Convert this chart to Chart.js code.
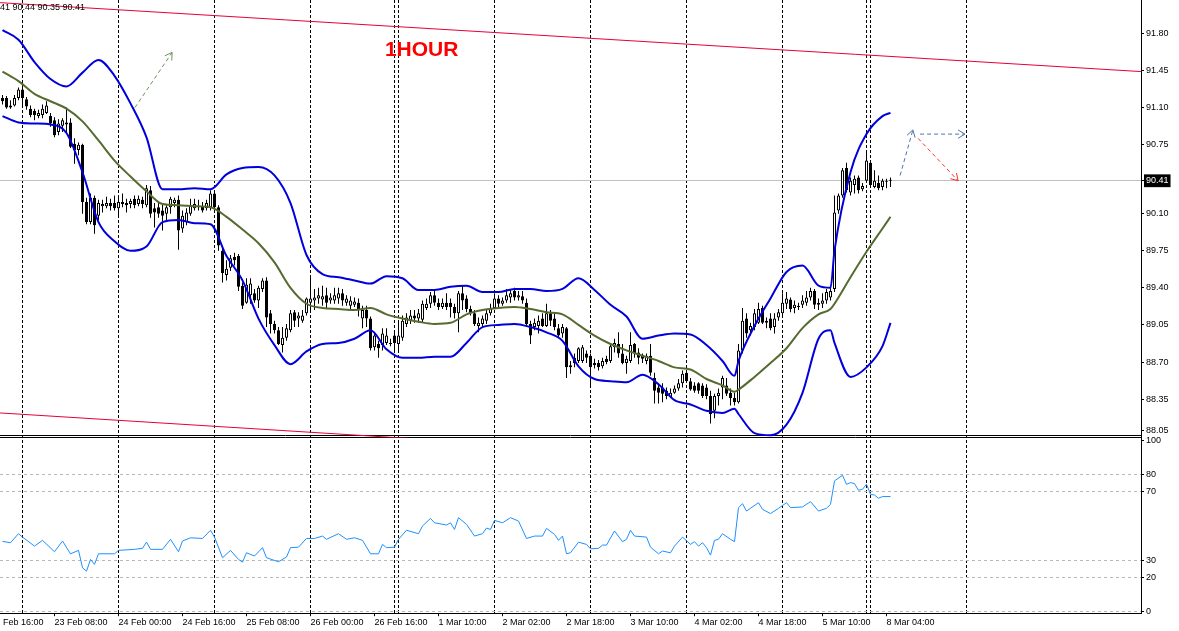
<!DOCTYPE html>
<html>
<head>
<meta charset="utf-8">
<script src="https://cdn.jsdelivr.net/npm/chart.js@4.4.1/dist/chart.umd.min.js"></script>
<style>
    html, body { margin: 0; padding: 0; background: #fff; }
    canvas { display: block; }
</style>
</head>
<body>
<canvas id="chart" width="1179" height="631"></canvas>
<script>
// H1 candles, one entry per bar (bar 0 = leftmost visible bar)
var open = [
    91.19, 91.19, 91.10, 91.12, 91.19, 91.27, 91.18, 91.09, 91.07, 91.02,
    91.03, 91.05, 91.02, 90.98, 90.87, 90.93, 90.96, 90.96, 90.76, 90.70,
    90.75, 90.21, 90.02, 90.25, 90.08, 90.17, 90.17, 90.20, 90.20, 90.15,
    90.19, 90.20, 90.19, 90.24, 90.19, 90.23, 90.18, 90.32, 90.15, 90.16,
    90.13, 90.10, 90.16, 90.20, 90.23, 89.96, 90.02, 90.10, 90.15, 90.17,
    90.17, 90.15, 90.16, 90.29, 90.16, 89.75, 89.52, 89.59, 89.69, 89.70,
    89.42, 89.26, 89.33, 89.35, 89.28, 89.39, 89.47, 89.16, 89.06, 89.00,
    88.86, 88.93, 89.00, 89.17, 89.11, 89.09, 89.16, 89.26, 89.28, 89.30,
    89.29, 89.33, 89.28, 89.28, 89.30, 89.35, 89.26, 89.23, 89.24, 89.26,
    89.11, 89.19, 89.11, 88.84, 88.87, 88.86, 88.88, 88.88, 88.95, 88.87,
    88.93, 89.06, 89.09, 89.14, 89.11, 89.10, 89.21, 89.25, 89.33, 89.26,
    89.22, 89.26, 89.26, 89.22, 89.16, 89.35, 89.30, 89.20, 89.16, 89.04,
    89.06, 89.09, 89.16, 89.21, 89.30, 89.25, 89.28, 89.31, 89.37, 89.31,
    89.32, 89.26, 89.06, 89.03, 89.04, 89.11, 89.04, 89.16, 89.11, 89.02,
    88.97, 89.02, 88.65, 88.74, 88.71, 88.71, 88.78, 88.76, 88.69, 88.69,
    88.66, 88.73, 88.71, 88.84, 88.87, 88.78, 88.69, 88.71, 88.87, 88.79,
    88.76, 88.71, 88.76, 88.55, 88.46, 88.46, 88.43, 88.37, 88.41, 88.45,
    88.50, 88.60, 88.52, 88.48, 88.50, 88.48, 88.46, 88.38, 88.24, 88.38,
    88.46, 88.48, 88.41, 88.36, 88.32, 88.81, 89.11, 89.00, 89.03, 89.07,
    89.21, 89.07, 89.11, 89.03, 89.12, 89.16, 89.25, 89.29, 89.21, 89.22,
    89.24, 89.26, 89.31, 89.37, 89.26, 89.25, 89.28, 89.31, 89.39, 90.13,
    90.27, 90.53, 90.30, 90.37, 90.44, 90.33, 90.41, 90.58, 90.35, 90.39,
    90.35, 90.40, 90.41
];
var high = [
    91.22, 91.21, 91.17, 91.22, 91.29, 91.31, 91.20, 91.12, 91.09, 91.08,
    91.13, 91.16, 91.05, 91.01, 90.99, 91.00, 91.10, 91.00, 90.81, 90.77,
    90.76, 90.25, 90.29, 90.27, 90.23, 90.23, 90.26, 90.24, 90.27, 90.27,
    90.29, 90.24, 90.24, 90.27, 90.27, 90.26, 90.37, 90.36, 90.20, 90.20,
    90.20, 90.18, 90.26, 90.25, 90.27, 90.13, 90.15, 90.24, 90.24, 90.23,
    90.21, 90.23, 90.32, 90.31, 90.18, 89.79, 89.66, 89.71, 89.73, 89.72,
    89.45, 89.49, 89.49, 89.39, 89.42, 89.49, 89.50, 89.19, 89.09, 89.03,
    89.03, 89.06, 89.19, 89.19, 89.17, 89.19, 89.31, 89.50, 89.39, 89.40,
    89.42, 89.40, 89.35, 89.40, 89.40, 89.39, 89.33, 89.32, 89.31, 89.30,
    89.23, 89.23, 89.13, 88.98, 88.90, 89.02, 89.02, 88.92, 89.00, 89.09,
    89.14, 89.16, 89.19, 89.19, 89.20, 89.28, 89.30, 89.36, 89.38, 89.30,
    89.30, 89.35, 89.30, 89.25, 89.37, 89.42, 89.33, 89.23, 89.19, 89.12,
    89.14, 89.19, 89.25, 89.35, 89.33, 89.31, 89.39, 89.39, 89.40, 89.37,
    89.37, 89.30, 89.09, 89.11, 89.14, 89.16, 89.25, 89.19, 89.16, 89.06,
    89.06, 89.03, 88.71, 88.78, 88.84, 88.86, 88.81, 88.78, 88.73, 88.72,
    88.74, 88.76, 88.88, 88.92, 88.98, 88.87, 88.76, 88.98, 88.88, 88.83,
    88.78, 88.78, 88.87, 88.60, 88.50, 88.50, 88.46, 88.45, 88.48, 88.54,
    88.62, 88.62, 88.55, 88.51, 88.51, 88.50, 88.49, 88.43, 88.40, 88.45,
    88.57, 88.55, 88.45, 88.41, 88.87, 89.21, 89.16, 89.07, 89.20, 89.26,
    89.23, 89.12, 89.16, 89.16, 89.20, 89.35, 89.36, 89.31, 89.28, 89.26,
    89.33, 89.37, 89.40, 89.39, 89.30, 89.35, 89.39, 89.42, 90.27, 90.29,
    90.53, 90.58, 90.44, 90.46, 90.46, 90.39, 90.70, 90.60, 90.51, 90.46,
    90.43, 90.43, 90.44
];
var low = [
    91.13, 91.09, 91.09, 91.11, 91.17, 91.12, 91.08, 91.01, 90.98, 91.00,
    91.00, 91.04, 90.92, 90.82, 90.84, 90.87, 90.86, 90.72, 90.57, 90.65,
    90.10, 90.00, 90.00, 89.91, 90.04, 90.11, 90.15, 90.13, 90.13, 90.06,
    90.16, 90.11, 90.15, 90.15, 90.17, 90.15, 90.16, 90.06, 89.97, 90.06,
    89.94, 90.04, 90.10, 90.16, 89.76, 89.92, 89.99, 90.08, 90.13, 90.13,
    90.11, 90.13, 90.13, 90.14, 89.75, 89.45, 89.47, 89.56, 89.61, 89.37,
    89.20, 89.25, 89.25, 89.26, 89.21, 89.36, 89.03, 88.97, 88.97, 88.86,
    88.79, 88.90, 88.98, 89.03, 89.03, 89.07, 89.14, 89.17, 89.19, 89.25,
    89.23, 89.21, 89.25, 89.25, 89.25, 89.23, 89.23, 89.20, 89.22, 89.13,
    89.02, 89.03, 88.81, 88.81, 88.74, 88.81, 88.86, 88.85, 88.79, 88.79,
    88.90, 89.03, 89.06, 89.07, 89.07, 89.07, 89.19, 89.21, 89.23, 89.19,
    89.20, 89.19, 89.12, 89.11, 88.98, 89.19, 89.17, 89.14, 89.04, 88.98,
    89.03, 89.06, 89.14, 89.20, 89.22, 89.23, 89.26, 89.26, 89.28, 89.28,
    89.25, 89.03, 88.87, 89.00, 88.97, 89.03, 89.03, 89.04, 89.00, 88.93,
    88.93, 88.55, 88.59, 88.65, 88.69, 88.69, 88.69, 88.46, 88.64, 88.62,
    88.64, 88.68, 88.69, 88.79, 88.74, 88.68, 88.59, 88.69, 88.74, 88.68,
    88.69, 88.68, 88.57, 88.31, 88.31, 88.32, 88.35, 88.36, 88.40, 88.43,
    88.46, 88.51, 88.43, 88.41, 88.40, 88.36, 88.35, 88.12, 88.17, 88.29,
    88.35, 88.38, 88.29, 88.29, 88.31, 88.78, 88.93, 88.95, 89.00, 89.06,
    89.06, 89.02, 89.00, 88.97, 89.09, 89.12, 89.20, 89.17, 89.16, 89.19,
    89.21, 89.23, 89.28, 89.20, 89.19, 89.21, 89.25, 89.28, 89.36, 90.10,
    90.25, 90.30, 90.27, 90.29, 90.29, 90.31, 90.40, 90.35, 90.34, 90.32,
    90.32, 90.34, 90.35
];
var close = [
    91.16, 91.10, 91.12, 91.19, 91.27, 91.19, 91.11, 91.03, 91.03, 91.05,
    91.09, 91.12, 90.95, 90.84, 90.95, 90.98, 90.94, 90.73, 90.70, 90.75,
    90.21, 90.02, 90.25, 89.99, 90.20, 90.19, 90.20, 90.17, 90.15, 90.21,
    90.21, 90.18, 90.22, 90.18, 90.24, 90.19, 90.34, 90.10, 90.11, 90.10,
    90.08, 90.16, 90.24, 90.23, 89.94, 90.08, 90.11, 90.18, 90.19, 90.16,
    90.13, 90.20, 90.29, 90.16, 89.80, 89.54, 89.58, 89.68, 89.66, 89.41,
    89.23, 89.43, 89.44, 89.28, 89.40, 89.47, 89.12, 89.06, 89.00, 88.87,
    88.93, 89.02, 89.16, 89.09, 89.14, 89.14, 89.30, 89.30, 89.31, 89.33,
    89.32, 89.26, 89.31, 89.33, 89.35, 89.28, 89.30, 89.28, 89.27, 89.20,
    89.19, 89.11, 88.83, 88.95, 88.83, 88.97, 88.95, 88.87, 88.88, 88.95,
    89.09, 89.12, 89.14, 89.11, 89.16, 89.25, 89.25, 89.33, 89.26, 89.22,
    89.26, 89.22, 89.22, 89.16, 89.35, 89.28, 89.20, 89.16, 89.06, 89.07,
    89.11, 89.16, 89.21, 89.30, 89.25, 89.28, 89.33, 89.35, 89.31, 89.33,
    89.28, 89.06, 88.95, 89.07, 89.09, 89.04, 89.16, 89.09, 89.03, 88.95,
    89.03, 88.65, 88.67, 88.69, 88.83, 88.84, 88.74, 88.65, 88.67, 88.65,
    88.71, 88.70, 88.85, 88.88, 88.78, 88.69, 88.73, 88.86, 88.78, 88.74,
    88.73, 88.76, 88.60, 88.43, 88.41, 88.40, 88.38, 88.41, 88.45, 88.50,
    88.59, 88.52, 88.44, 88.43, 88.43, 88.38, 88.38, 88.21, 88.38, 88.41,
    88.55, 88.40, 88.36, 88.32, 88.81, 89.09, 88.97, 89.04, 89.16, 89.20,
    89.07, 89.09, 89.02, 89.11, 89.17, 89.26, 89.30, 89.20, 89.24, 89.23,
    89.28, 89.31, 89.37, 89.24, 89.24, 89.28, 89.36, 89.37, 90.11, 90.27,
    90.51, 90.32, 90.41, 90.43, 90.32, 90.36, 90.60, 90.37, 90.41, 90.34,
    90.41, 90.41, 90.41
];

// Bollinger bands (20), read at these bars
var bandIdx = [0, 4, 8, 12, 16, 20, 24, 28, 32, 36, 40, 44, 48, 52, 56, 60, 64, 68, 72, 76,
    80, 84, 88, 92, 96, 100, 104, 108, 112, 116, 120, 124, 128, 132, 136, 140, 144, 148, 152, 156,
    160, 164, 168, 172, 176, 180, 183, 184, 188, 192, 196, 200, 204, 207, 208, 212, 216, 220, 222];
var bbUpper = [91.83, 91.74, 91.53, 91.37, 91.30, 91.43, 91.55, 91.40, 91.14, 90.82,
    90.33, 90.33, 90.34, 90.33, 90.47, 90.53, 90.54, 90.46, 90.20, 89.71,
    89.53, 89.50, 89.47, 89.44, 89.51, 89.49, 89.38, 89.38, 89.41, 89.42,
    89.36, 89.36, 89.39, 89.39, 89.37, 89.39, 89.49, 89.38, 89.24, 89.13,
    88.92, 88.95, 88.97, 88.96, 88.86, 88.71, 88.57, 88.71, 89.04, 89.30,
    89.55, 89.61, 89.42, 89.40, 89.75, 90.49, 90.85, 91.02, 91.05];
var bbMiddle = [91.44, 91.35, 91.23, 91.16, 91.09, 90.97, 90.79, 90.60, 90.45, 90.31,
    90.19, 90.18, 90.17, 90.16, 90.07, 89.95, 89.82, 89.64, 89.40, 89.25,
    89.21, 89.20, 89.19, 89.21, 89.15, 89.11, 89.08, 89.06, 89.07, 89.15,
    89.19, 89.21, 89.22, 89.20, 89.17, 89.15, 89.05, 88.95, 88.87, 88.81,
    88.76, 88.71, 88.65, 88.63, 88.54, 88.48, 88.42, 88.44, 88.56, 88.69,
    88.83, 89.02, 89.15, 89.20, 89.25, 89.50, 89.74, 89.96, 90.07];
var bbLower = [91.02, 90.96, 90.95, 90.94, 90.86, 90.49, 90.02, 89.84, 89.75, 89.79,
    90.02, 90.04, 90.01, 90.00, 89.70, 89.47, 89.11, 88.86, 88.68, 88.80,
    88.87, 88.88, 88.92, 89.00, 88.82, 88.74, 88.74, 88.75, 88.75, 88.88,
    89.03, 89.05, 89.06, 89.03, 88.98, 88.90, 88.66, 88.54, 88.52, 88.51,
    88.58, 88.49, 88.34, 88.30, 88.24, 88.22, 88.26, 88.21, 88.03, 88.01,
    88.11, 88.41, 88.92, 89.00, 88.88, 88.56, 88.65, 88.85, 89.07];

// RSI, read at these bars
var rsiIdx = [0, 2, 4, 5, 8, 10, 13, 15, 17, 19, 20, 21, 22, 23, 24, 28, 29, 33, 35, 36,
    37, 40, 42, 44, 45, 47, 50, 52, 53, 55, 57, 59, 60, 61, 63, 65, 66, 69, 71, 72,
    74, 76, 78, 80, 81, 84, 86, 88, 90, 92, 94, 95, 96, 98, 99, 101, 104, 105, 107, 108,
    111, 112, 113, 114, 116, 118, 120, 121, 122, 123, 125, 127, 129, 131, 133, 135, 136, 138, 139, 140,
    141, 142, 144, 146, 147, 149, 150, 151, 153, 155, 156, 157, 158, 161, 162, 164, 165, 167, 168, 170,
    172, 173, 174, 175, 176, 177, 178, 179, 180, 182, 183, 184, 185, 186, 189, 190, 192, 194, 196, 197,
    200, 202, 204, 206, 207, 208, 210, 211, 212, 213, 214, 215, 216, 217, 218, 219, 220, 222];
var rsiVal = [41.0, 40.2, 45.5, 43.5, 38.2, 41.6, 34.9, 41.2, 33.7, 35.7, 25.5, 23.5, 30.4, 27.5, 33.7, 33.7, 35.7, 36.3, 36.9, 40.6,
    36.3, 36.3, 42.2, 34.9, 41.2, 43.1, 42.7, 47.5, 43.5, 31.4, 35.7, 30.4, 28.8, 34.3, 32.4, 37.3, 31.4, 29.0, 31.8, 37.3,
    37.6, 42.7, 42.7, 44.1, 42.2, 45.5, 42.2, 43.1, 41.6, 33.7, 33.7, 39.2, 37.3, 37.6, 42.2, 47.5, 45.5, 50.0, 54.5, 51.9,
    50.6, 51.9, 48.0, 54.9, 51.0, 44.1, 45.5, 48.8, 48.0, 53.3, 51.9, 54.9, 52.9, 42.7, 44.1, 44.1, 48.6, 45.1, 41.6, 44.1,
    33.7, 34.3, 40.5, 39.2, 36.6, 36.9, 38.8, 38.8, 47.1, 40.8, 42.2, 47.5, 44.1, 43.5, 37.6, 33.7, 35.3, 34.3, 38.2, 43.5,
    39.2, 40.8, 38.2, 40.2, 37.3, 32.9, 41.6, 42.2, 45.5, 42.2, 40.8, 60.8, 63.1, 58.8, 63.7, 59.8, 57.3, 60.4, 63.7, 60.8,
    61.2, 64.3, 58.8, 60.4, 62.7, 76.5, 79.8, 74.5, 75.5, 74.9, 71.0, 71.6, 74.5, 68.6, 68.2, 66.3, 67.3, 67.3];

// time axis
var labelIdx = [-3, 13, 29, 45, 61, 77, 93, 109, 125, 141, 157, 173, 189, 205, 221];
var labelText = ["22 Feb 16:00", "23 Feb 08:00", "24 Feb 00:00", "24 Feb 16:00", "25 Feb 08:00",
    "26 Feb 00:00", "26 Feb 16:00", "1 Mar 10:00", "2 Mar 02:00", "2 Mar 18:00", "3 Mar 10:00",
    "4 Mar 02:00", "4 Mar 18:00", "5 Mar 10:00", "8 Mar 04:00"];
var dayBreakIdx = [5, 29, 53, 77, 98, 99, 123, 147, 171, 195, 216, 217, 241];

// price / rsi axes
var priceTicks = [91.80, 91.45, 91.10, 90.75, 90.41, 90.10, 89.75, 89.40, 89.05, 88.70, 88.35, 88.05];
var rsiTicks = [100, 80, 70, 30, 20, 0];
var lastPrice = 90.41;

// drawn objects (bar, price)
var channelTop = [[-0.6, 92.09], [284.6, 91.44]];
var channelBottom = [[-0.6, 88.22], [284.6, 87.55]];
var arrowGreen = [[33.1, 91.10], [42.4, 91.62]];
var arrowBlueUp = [[224.4, 90.46], [227.6, 90.89]];
var arrowBlueFlat = [[229.4, 90.85], [240.6, 90.85]];
var arrowRed = [[228.9, 90.81], [238.9, 90.41]];
var titleText = "1HOUR";
var titleAt = [95.6, 91.64];
var ohlcText = "41 90.44 90.35 90.41";

var xMin = -0.625, xMax = 284.625;
var priceMin = 87.985, priceMax = 92.115, paneEdge = 88.004;
var rsiMin = -1.18, rsiMax = 101.76;

function pts(xs, ys) {
    return xs.map(function (x, k) { return { x: x, y: ys[k] }; });
}
function pairs(a) {
    return a.map(function (p) { return { x: p[0], y: p[1] }; });
}

var bars = open.map(function (o, i) { return i; });
var wicks = bars.map(function (i) { return { x: i, y: [low[i], high[i]] }; });
var bodies = bars.map(function (i) {
    return { x: i, y: [Math.min(open[i], close[i]), Math.max(open[i], close[i])] };
});
var bodyColors = bars.map(function (i) { return close[i] >= open[i] ? "#ffffff" : "#000000"; });

Chart.defaults.font.family = '"Liberation Sans", Arial, sans-serif';
Chart.defaults.font.size = 9;
Chart.defaults.color = "#000";

function tickVal(ctx) { return ctx && ctx.tick ? ctx.tick.value : null; }

// the panes sit flush against the canvas edge, so drop the label padding
function noPadding(s) {
    s.paddingLeft = 0; s.paddingRight = 0; s.paddingTop = 0; s.paddingBottom = 0;
}

var overlay = {
    id: "overlay",
    afterDatasetsDraw: function (chart) {
        var ctx = chart.ctx;
        chart.data.datasets.forEach(function (ds, k) {
            if (!ds.arrow) return;
            var p = chart.getDatasetMeta(k).data;
            var a = p[p.length - 2], b = p[p.length - 1];
            var ang = Math.atan2(b.y - a.y, b.x - a.x);
            ctx.save();
            ctx.strokeStyle = ds.borderColor;
            ctx.lineWidth = 1;
            ctx.beginPath();
            ctx.moveTo(b.x - 8 * Math.cos(ang - 0.55), b.y - 8 * Math.sin(ang - 0.55));
            ctx.lineTo(b.x, b.y);
            ctx.lineTo(b.x - 8 * Math.cos(ang + 0.55), b.y - 8 * Math.sin(ang + 0.55));
            ctx.stroke();
            ctx.restore();
        });
        var xs = chart.scales.x, ys = chart.scales.y;
        ctx.save();
        ctx.fillStyle = "#ff0000";
        ctx.font = 'bold 21px "Liberation Sans", Arial, sans-serif';
        ctx.textBaseline = "middle";
        ctx.fillText(titleText, xs.getPixelForValue(titleAt[0]), ys.getPixelForValue(titleAt[1]));
        ctx.fillStyle = "#000";
        ctx.font = '9px "Liberation Sans", Arial, sans-serif';
        ctx.textBaseline = "top";
        ctx.fillText(ohlcText, chart.chartArea.left, chart.chartArea.top + 3);
        ctx.restore();
    }
};

new Chart("chart", {
    type: "line",
    data: {
        datasets: [
            { data: pairs(arrowGreen), arrow: true, borderColor: "#6f9060", borderWidth: 1, borderDash: [4, 3], pointRadius: 0, order: 0 },
            { data: pairs(arrowBlueUp), arrow: true, borderColor: "#4f72a8", borderWidth: 1, borderDash: [4, 3], pointRadius: 0, order: 0 },
            { data: pairs(arrowBlueFlat), arrow: true, borderColor: "#4f72a8", borderWidth: 1, borderDash: [4, 3], pointRadius: 0, order: 0 },
            { data: pairs(arrowRed), arrow: true, borderColor: "#ff3030", borderWidth: 1, borderDash: [4, 3], pointRadius: 0, order: 0 },
            { data: pts(bandIdx, bbUpper), borderColor: "#0000dd", borderWidth: 2, pointRadius: 0, cubicInterpolationMode: "monotone", order: 1 },
            { data: pts(bandIdx, bbMiddle), borderColor: "#556b2f", borderWidth: 2, pointRadius: 0, cubicInterpolationMode: "monotone", order: 1 },
            { data: pts(bandIdx, bbLower), borderColor: "#0000dd", borderWidth: 2, pointRadius: 0, cubicInterpolationMode: "monotone", order: 1 },
            { data: pairs(channelTop), borderColor: "#e4003a", borderWidth: 1, pointRadius: 0, order: 2 },
            { data: pairs(channelBottom), borderColor: "#e4003a", borderWidth: 1, pointRadius: 0, order: 2 },
            {
                type: "bar", data: bodies, backgroundColor: bodyColors, borderColor: "#000", borderWidth: 1,
                borderSkipped: false, barThickness: 3, grouped: false, minBarLength: 1, inflateAmount: 0, order: 3
            },
            {
                type: "bar", data: wicks, backgroundColor: "#000", borderWidth: 0,
                barThickness: 1, grouped: false, inflateAmount: 0, order: 4
            },
            { data: pts(rsiIdx, rsiVal), yAxisID: "rsi", borderColor: "#1e90ff", borderWidth: 1, pointRadius: 0, order: 1 }
        ]
    },
    options: {
        responsive: false,
        animation: false,
        devicePixelRatio: 1,
        events: [],
        layout: { autoPadding: false, padding: { left: 0, right: 0, top: 0, bottom: 2 } },
        plugins: { legend: { display: false }, tooltip: { enabled: false } },
        scales: {
            x: {
                type: "linear", position: "bottom", min: xMin, max: xMax, offset: false,
                afterBuildTicks: function (s) { s.ticks = labelIdx.map(function (v) { return { value: v }; }); },
                afterFit: noPadding,
                ticks: {
                    autoSkip: false, maxRotation: 0, minRotation: 0, align: "start", padding: 1,
                    callback: function (v, i) { return labelText[i]; }
                },
                grid: { drawOnChartArea: false, drawTicks: true, tickLength: 3, tickColor: "#000", offset: false },
                border: { color: "#000", width: 1 }
            },
            xs: {
                type: "linear", position: "bottom", min: xMin, max: xMax, offset: false,
                afterBuildTicks: function (s) { s.ticks = dayBreakIdx.map(function (v) { return { value: v }; }); },
                afterFit: noPadding,
                ticks: { display: false },
                grid: { color: "#000", lineWidth: 1, drawTicks: false, offset: false },
                border: { display: false, dash: [3, 2] }
            },
            y: {
                type: "linear", position: "right", stack: "panes", stackWeight: 437,
                min: priceMin, max: priceMax, beginAtZero: false, offset: false,
                afterBuildTicks: function (s) {
                    s.ticks = priceTicks.concat([paneEdge]).map(function (v) { return { value: v }; });
                },
                afterFit: function (s) { s.width = 38; noPadding(s); },
                ticks: {
                    autoSkip: false, padding: 2,
                    callback: function (v) { return v === paneEdge ? "" : v.toFixed(2); },
                    color: function (c) { return tickVal(c) === lastPrice ? "#fff" : "#000"; },
                    showLabelBackdrop: function (c) { return tickVal(c) === lastPrice; },
                    backdropColor: "#000",
                    backdropPadding: { left: 2, right: 2, top: 1, bottom: 1 }
                },
                grid: {
                    color: function (c) {
                        var v = tickVal(c);
                        if (v === paneEdge) return "#000";
                        if (v === lastPrice) return "#c0c0c0";
                        return "rgba(0,0,0,0)";
                    },
                    tickLength: 3,
                    tickColor: function (c) { return tickVal(c) === paneEdge ? "rgba(0,0,0,0)" : "#000"; }
                },
                border: { color: "#000", width: 1 }
            },
            rsi: {
                type: "linear", position: "right", stack: "panes", stackWeight: 175,
                min: rsiMin, max: rsiMax, beginAtZero: false, offset: false,
                afterBuildTicks: function (s) {
                    s.ticks = [rsiMax].concat(rsiTicks).map(function (v) { return { value: v }; });
                },
                afterFit: function (s) { s.width = 38; noPadding(s); },
                ticks: {
                    autoSkip: false, padding: 2,
                    callback: function (v) { return v === rsiMax ? "" : String(v); }
                },
                grid: {
                    color: function (c) {
                        var v = tickVal(c);
                        if (v === rsiMax) return "#000";
                        if (v === 100) return "rgba(0,0,0,0)";
                        return "#b8b8b8";
                    },
                    tickLength: 3,
                    tickColor: function (c) { return tickVal(c) === rsiMax ? "rgba(0,0,0,0)" : "#000"; }
                },
                border: {
                    color: "#000", width: 1,
                    dash: function (c) { var v = tickVal(c); return v === null || v === rsiMax ? [] : [3, 3]; }
                }
            }
        }
    },
    plugins: [overlay]
});
</script>
</body>
</html>
